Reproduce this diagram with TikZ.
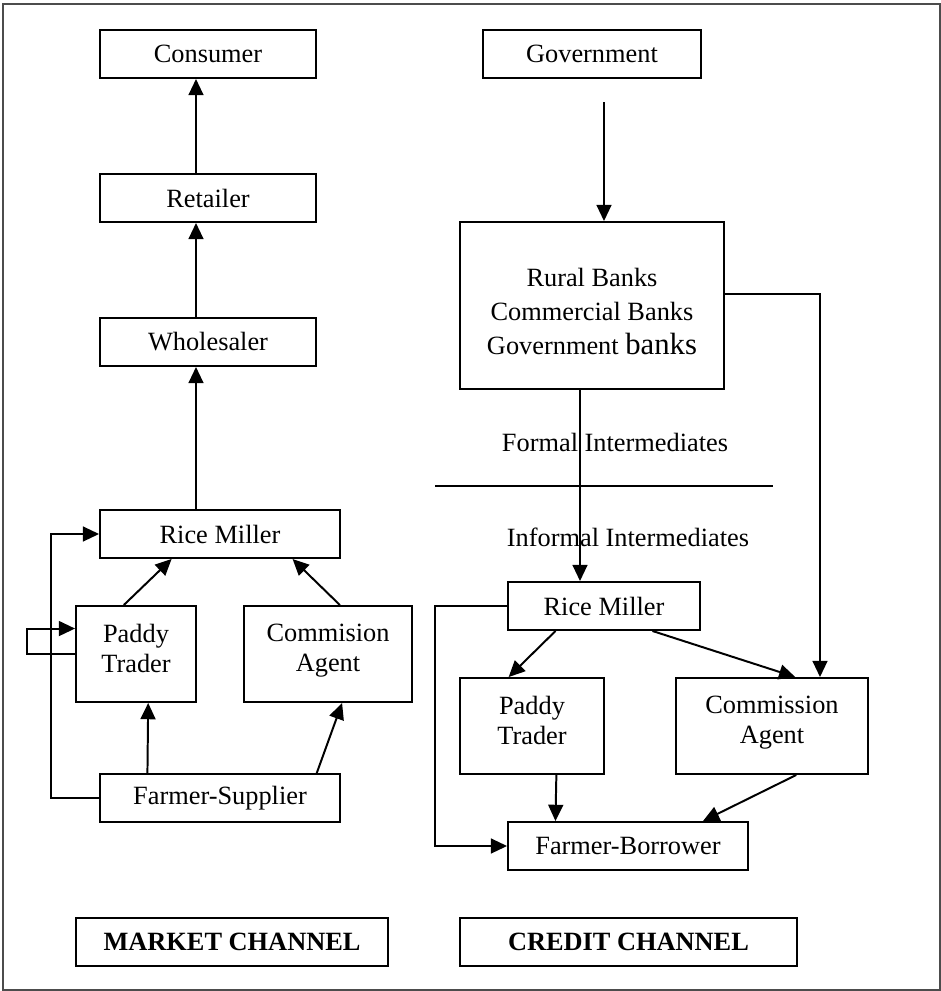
\documentclass[tikz,border=0pt]{standalone}
\usepackage{fontspec}
\setmainfont{Liberation Serif}
\usetikzlibrary{arrows.meta,calc}
\begin{document}
\begin{tikzpicture}[x=0.016cm,y=-0.016cm,
  box/.style={draw,line width=.9pt,inner sep=0pt,align=center,font=\fontsize{12}{13.7}\selectfont},
  arr/.style={line width=.9pt,-{Triangle[length=7.4pt,width=6.8pt]}}]
\useasboundingbox (0,0) rectangle (941,991);
\draw[black!70,line width=.7pt] (3,4) rectangle (940,990);
\node[box,minimum width=3.456cm,minimum height=.768cm] (con) at (208,54) {Consumer};
\node[box,minimum width=3.456cm,minimum height=.768cm] (ret) at (208,198) {Retailer};
\node[box,minimum width=3.456cm,minimum height=.768cm] (whole) at (208,342) {Wholesaler};
\node[box,minimum width=3.84cm,minimum height=.768cm] (rmL) at (220,534) {Rice Miller};
\node[box,minimum width=1.92cm,minimum height=1.536cm] (ptL) at (136,654) {Paddy\\Trader\\[-8.2pt]};
\node[box,minimum width=2.688cm,minimum height=1.536cm] (caL) at (328,654) {Commision\\Agent\\[-8.2pt]};
\node[box,minimum width=3.84cm,minimum height=.768cm] (fs) at (220,798) {Farmer-Supplier};
\node[box,minimum width=4.992cm,minimum height=.768cm,font=\fontsize{12}{14}\selectfont\bfseries] (mkt) at (232,942) {MARKET CHANNEL};
\node[box,minimum width=3.488cm,minimum height=.768cm] (gov) at (592,54) {Government};
\node[box,minimum width=4.224cm,minimum height=2.672cm,font=\fontsize{12}{15.5}\selectfont] (banks) at (592,305.5)
  {Rural Banks\\Commercial Banks\\Government {\fontsize{14}{16}\selectfont banks}\\[-21pt]};
\node[box,minimum width=3.072cm,minimum height=.768cm] (rmR) at (604,606) {Rice Miller};
\node[box,minimum width=2.304cm,minimum height=1.536cm] (ptR) at (532,726) {Paddy\\Trader\\[-8.2pt]};
\node[box,minimum width=3.072cm,minimum height=1.536cm] (caR) at (772,726) {Commission\\Agent\\[-8.2pt]};
\node[box,minimum width=3.84cm,minimum height=.768cm] (fb) at (628,846) {Farmer-Borrower};
\node[box,minimum width=5.392cm,minimum height=.768cm,font=\fontsize{12}{14}\selectfont\bfseries] (crd) at (628.5,942) {CREDIT CHANNEL};
\node[font=\fontsize{12}{14}\selectfont] (formal) at (615,442) {Formal Intermediates};
\node[font=\fontsize{12}{14}\selectfont] (informal) at (628,537) {Informal Intermediates};
\coordinate (mainL) at (196,0); \coordinate (gtail) at (604,102);
\coordinate (midR) at (580,0); \coordinate (sideR) at (820,0);
\coordinate (divL) at (435,486); \coordinate (divR) at (773,486);
\draw[arr] (ret.north -| mainL) -- (con.south -| mainL);
\draw[arr] (whole.north -| mainL) -- (ret.south -| mainL);
\draw[arr] (rmL.north -| mainL) -- (whole.south -| mainL);
\draw[arr] ($(ptL.north west)!.4!(ptL.north east)$) -- ($(rmL.south west)!.3!(rmL.south east)$);
\draw[arr] ($(caL.north west)!.57!(caL.north east)$) -- ($(rmL.south west)!.8!(rmL.south east)$);
\draw[arr] ($(fs.north west)!.2!(fs.north east)$) -- ($(ptL.south west)!.6!(ptL.south east)$);
\draw[arr] ($(fs.north west)!.9!(fs.north east)$) -- ($(caL.south west)!.583!(caL.south east)$);
\draw[arr] (fs.west) -- ++(-48,0) |- (rmL.west);
\draw[arr] (ptL.west) -- ++(-48,0) |- ($(ptL.north west)!.24!(ptL.south west)$);
\draw[arr] (gtail) -- (banks.north -| gtail);
\draw[arr] ($(banks.north east)!.43!(banks.south east)$) -| (caR.north -| sideR);
\draw[arr] (banks.south -| midR) -- (rmR.north -| midR);
\draw[line width=.9pt] (divL) -- (divR);
\draw[arr] ($(rmR.south west)!.25!(rmR.south east)$) -- ($(ptR.north west)!.34!(ptR.north east)$);
\draw[arr] ($(rmR.south west)!.75!(rmR.south east)$) -- ($(caR.north west)!.62!(caR.north east)$);
\draw[arr] ($(ptR.south west)!.667!(ptR.south east)$) -- ($(fb.north west)!.2!(fb.north east)$);
\draw[arr] ($(caR.south west)!.625!(caR.south east)$) -- ($(fb.north west)!.81!(fb.north east)$);
\draw[arr] (rmR.west) -- ++(-72,0) |- (fb.west);
\end{tikzpicture}
\end{document}
